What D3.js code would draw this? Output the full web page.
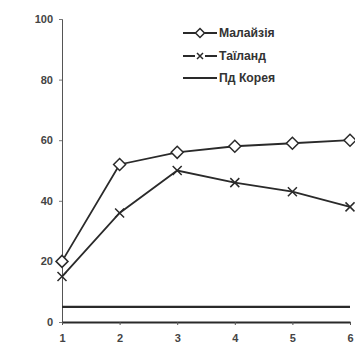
<!DOCTYPE html>
<html><head><meta charset="utf-8">
<script src="https://cdn.jsdelivr.net/npm/d3@7"></script>
<style>body{margin:0;background:#fff}svg{display:block}</style>
</head><body>
<script>
const categories = [1, 2, 3, 4, 5, 6];
const malaysia = [20, 52, 56, 58, 59, 60];
const thailand = [15, 36, 50, 46, 43, 38];
const korea = [5, 5, 5, 5, 5, 5];
const yTicks = [0, 20, 40, 60, 80, 100];
const seriesNames = ["Малайзія", "Таїланд", "Пд Корея"];

const W = 355, H = 351;
const svg = d3.select("body").append("svg").attr("width", W).attr("height", H);
const x = d3.scaleLinear().domain([1, 6]).range([62, 350]);
const y = d3.scaleLinear().domain([0, 100]).range([322, 19]);
const ink = "#2a2a2a";
const font = "Liberation Sans, Arial, sans-serif";

// y axis
const ya = svg.append("g").attr("transform", "translate(62,0)")
  .call(d3.axisLeft(y).tickValues(yTicks).tickFormat(d3.format("d")).tickSize(3).tickPadding(6));
ya.select(".domain").attr("stroke", "#555").attr("stroke-width", 1);
ya.selectAll(".tick line").attr("stroke", "#777");
ya.selectAll("text").attr("font-family", font).attr("font-size", 11).attr("font-weight", "bold").attr("fill", "#444");

// x axis
const xa = svg.append("g").attr("transform", "translate(0,322)")
  .call(d3.axisBottom(x).tickValues(categories).tickFormat(d3.format("d")).tickSize(3).tickPadding(9).tickSizeOuter(0));
xa.select(".domain").attr("stroke", ink).attr("stroke-width", 2);
xa.selectAll(".tick line").attr("stroke", "#555");
xa.selectAll("text").attr("font-family", font).attr("font-size", 11).attr("font-weight", "bold").attr("fill", "#444");

const line = d3.line().x((d, i) => x(categories[i])).y(d => y(d));

function diamond(g, cx, cy, r) {
  g.append("path").attr("d", `M${cx},${cy - r}L${cx + r},${cy}L${cx},${cy + r}L${cx - r},${cy}Z`)
    .attr("fill", "#fff").attr("stroke", ink).attr("stroke-width", 1.5);
}
function cross(g, cx, cy, r) {
  g.append("path").attr("d", `M${cx - r},${cy - r}L${cx + r},${cy + r}M${cx - r},${cy + r}L${cx + r},${cy - r}`)
    .attr("stroke", ink).attr("stroke-width", 1.5).attr("fill", "none");
}

svg.append("path").datum(korea).attr("d", line).attr("fill", "none").attr("stroke", ink).attr("stroke-width", 2.2);
svg.append("path").datum(thailand).attr("d", line).attr("fill", "none").attr("stroke", ink).attr("stroke-width", 1.8);
svg.append("path").datum(malaysia).attr("d", line).attr("fill", "none").attr("stroke", ink).attr("stroke-width", 1.8);

const mk = svg.append("g");
thailand.forEach((v, i) => cross(mk, x(categories[i]), y(v), 4.5));
malaysia.forEach((v, i) => diamond(mk, x(categories[i]), y(v), 6));

// legend
const lg = svg.append("g");
const rows = [33, 56, 78];
rows.forEach((ry, i) => {
  lg.append("line").attr("x1", 183).attr("x2", 217).attr("y1", ry).attr("y2", ry)
    .attr("stroke", ink).attr("stroke-width", i === 2 ? 2.2 : 1.8);
  if (i === 0) diamond(lg, 200, ry, 4.5);
  if (i === 1) { lg.append("rect").attr("x", 195).attr("y", ry - 4).attr("width", 10).attr("height", 8).attr("fill", "#fff"); cross(lg, 200, ry, 3); }
  lg.append("text").attr("x", 219).attr("y", ry).attr("dy", "0.35em")
    .attr("font-family", font).attr("font-size", 12.2).attr("font-weight", "bold").attr("fill", "#333")
    .text(seriesNames[i]);
});
</script>
</body></html>
